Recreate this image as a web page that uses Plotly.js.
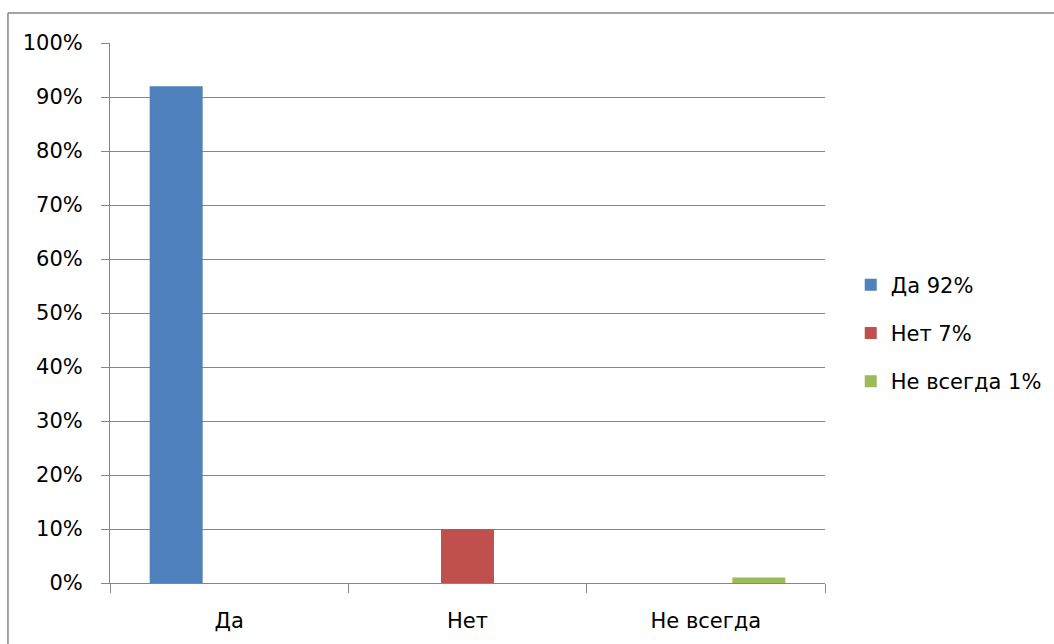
<!DOCTYPE html>
<html>
<head>
<meta charset="utf-8">
<script src="https://cdn.plot.ly/plotly-3.0.1.min.js"></script>
<style>html,body{margin:0;padding:0;background:#fff;}#chart{width:1054px;height:644px;}</style>
</head>
<body>
<div id="chart"></div>
<script>
const categories = ["Да", "Нет", "Не всегда"];
const seriesNames = ["Да 92%", "Нет 7%", "Не всегда 1%"];
const seriesDa = [0.92, null, null];
const seriesNet = [null, 0.10, null];
const seriesNeVsegda = [null, null, 0.01];
const colors = ["#4F81BD", "#C0504D", "#9BBB59"];
const yTickVals = [0, 0.1, 0.2, 0.3, 0.4, 0.5, 0.6, 0.7, 0.8, 0.9, 1.0];

const seriesValues = [seriesDa, seriesNet, seriesNeVsegda];
const traces = seriesValues.map((vals, i) => ({
  type: "bar",
  name: seriesNames[i],
  x: categories,
  y: vals,
  marker: {color: colors[i]},
  legendgroup: "g" + i,
  hoverinfo: "none"
}));

const FONT = "DejaVu Sans, sans-serif";
const FS = 21;
const layout = {
  width: 1054, height: 644,
  margin: {l: 110, r: 229, t: 43, b: 61, autoexpand: false},
  paper_bgcolor: "#fff", plot_bgcolor: "#fff",
  barmode: "group", bargap: 0.333, bargroupgap: 0,
  font: {family: FONT, size: FS, color: "#000"},
  showlegend: true,
  legend: {
    x: 1.036, xanchor: "left", y: 0.463, yanchor: "middle",
    font: {family: FONT, size: FS, color: "#000"},
    traceorder: "grouped", tracegroupgap: 18,
    itemwidth: 30, bgcolor: "rgba(0,0,0,0)"
  },
  xaxis: {
    type: "category",
    showgrid: false, showline: true, linecolor: "#868686", linewidth: 1,
    ticks: "outside", ticklen: 9, tickcolor: "#868686", tickson: "boundaries",
    tickfont: {family: FONT, size: FS, color: "#000"},
    ticklabelstandoff: 19,
    zeroline: false, fixedrange: true
  },
  yaxis: {
    range: [0, 1], tickvals: yTickVals, tickformat: ".0%",
    showgrid: true, gridcolor: "#868686", gridwidth: 1,
    showline: true, linecolor: "#868686", linewidth: 1,
    ticks: "outside", ticklen: 8, tickcolor: "#868686",
    tickfont: {family: FONT, size: FS, color: "#000"},
    ticklabelstandoff: 14,
    zeroline: false, fixedrange: true
  },
  shapes: [
    {type: "line", xref: "paper", yref: "paper", x0: -0.1427, x1: 1.33, y0: 1.0556, y1: 1.0556, line: {color: "#868686", width: 1.5}},
    {type: "line", xref: "paper", yref: "paper", x0: -0.1427, x1: -0.1427, y0: 1.0556, y1: -0.12, line: {color: "#868686", width: 1.5}}
  ]
};
Plotly.newPlot("chart", traces, layout, {displayModeBar: false, staticPlot: true});
</script>
</body>
</html>
